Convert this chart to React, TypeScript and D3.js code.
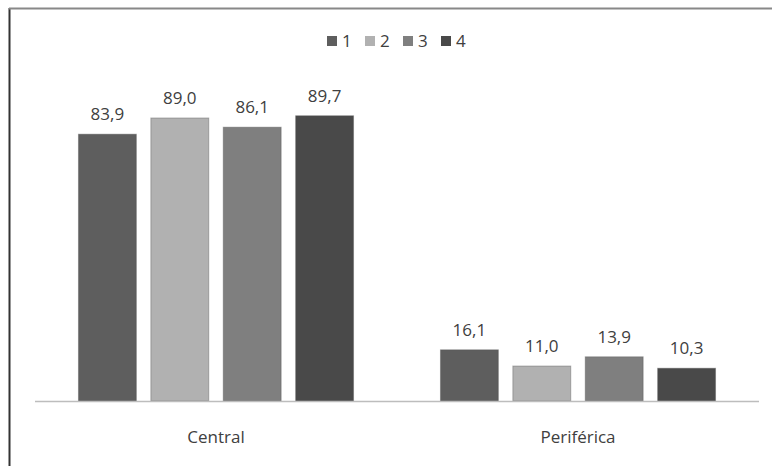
import React from "react";
import * as d3 from "d3";

const categories = ["Central", "Periférica"];
const seriesNames = ["1", "2", "3", "4"];
const values: number[][] = [
  [83.9, 89.0, 86.1, 89.7],
  [16.1, 11.0, 13.9, 10.3],
];
const colors = ["#5e5e5e", "#b1b1b1", "#7f7f7f", "#494949"];

const W = 772;
const H = 466;
const font = "'Open Sans', 'Liberation Sans', sans-serif";

export default function App() {
  const x0 = d3.scaleBand<string>().domain(categories).range([35, 759]).paddingInner(0).paddingOuter(0);
  const x1 = d3
    .scaleBand<string>()
    .domain(seriesNames)
    .range([0, x0.bandwidth()])
    .paddingInner(0.2)
    .paddingOuter(0.6);
  const y = d3.scaleLinear().domain([0, 100]).range([401, 83]);
  const fmt = (v: number) => v.toFixed(1).replace(".", ",");

  return (
    <svg
      width={W}
      height={H}
      style={{ position: "absolute", left: 0, top: 0, background: "#fff" }}
    >
      <rect x={0} y={0} width={W} height={H} fill="#fff" />
      <line x1={9.5} x2={9.5} y1={8} y2={H} stroke="#333" strokeWidth={2} />
      <line x1={9} x2={W} y1={8.5} y2={8.5} stroke="#888" strokeWidth={2} />
      {categories.map((c, ci) =>
        seriesNames.map((s, si) => {
          const v = values[ci][si];
          const bx = (x0(c) ?? 0) + (x1(s) ?? 0);
          return (
            <g key={c + s}>
              <rect
                x={bx}
                y={y(v)}
                width={x1.bandwidth()}
                height={y(0) - y(v)}
                fill={colors[si]}
                stroke="#555"
                strokeOpacity={0.4}
              />
              <text
                x={bx + x1.bandwidth() / 2}
                y={y(v) - 14}
                textAnchor="middle"
                fontFamily={font}
                fontSize={17}
                fill="#404040"
              >
                {fmt(v)}
              </text>
            </g>
          );
        })
      )}
      <line x1={35} x2={759} y1={401.5} y2={401.5} stroke="#bdbdbd" strokeWidth={1.5} />
      {categories.map((c) => (
        <text
          key={c}
          x={(x0(c) ?? 0) + x0.bandwidth() / 2}
          y={443}
          textAnchor="middle"
          fontFamily={font}
          fontSize={17}
          fill="#404040"
        >
          {c}
        </text>
      ))}
      {seriesNames.map((s, i) => {
        const lx = 327 + i * 38;
        return (
          <g key={s}>
            <rect x={lx} y={36} width={10} height={10} fill={colors[i]} />
            <text x={lx + 15} y={47} fontFamily={font} fontSize={17} fill="#404040">
              {s}
            </text>
          </g>
        );
      })}
    </svg>
  );
}
